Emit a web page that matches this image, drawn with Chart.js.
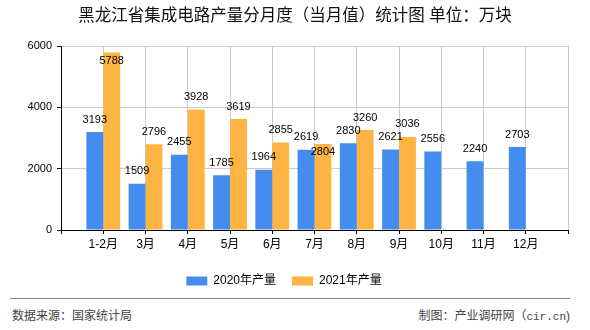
<!DOCTYPE html>
<html>
<head>
<meta charset="utf-8">
<script src="https://cdn.jsdelivr.net/npm/chart.js@4.4.1/dist/chart.umd.min.js"></script>
<style>
    body { margin: 0; background: #fff; font-family: "Liberation Sans", "Noto Sans CJK SC", sans-serif; }
    #wrap { position: relative; width: 590px; height: 330px; overflow: hidden; }
    #title { position: absolute; left: 0; top: 4px; width: 590px; text-align: center; font-size: 16.5px; line-height: 22px; color: #111; }
    #chart { position: absolute; left: 0; top: 0; }
    #rule { position: absolute; left: 10px; top: 298px; width: 560px; height: 0; border-top: 1px solid #888; }
    .foot { position: absolute; top: 308px; font-size: 12px; line-height: 16px; color: #444; }
    #src { left: 12px; }
    #maker { right: 20px; }
    .mono { font-family: "Liberation Mono", monospace; font-size: 11px; }
</style>
</head>
<body>
<div id="wrap">
    <canvas id="chart" width="590" height="300"></canvas>
    <div id="title">黑龙江省集成电路产量分月度（当月值）统计图 单位：万块</div>
    <div id="rule"></div>
    <div class="foot" id="src">数据来源：国家统计局</div>
    <div class="foot" id="maker">制图：产业调研网（<span class="mono">cir.cn</span>)</div>
</div>
<script>
const months = ['1-2月', '3月', '4月', '5月', '6月', '7月', '8月', '9月', '10月', '11月', '12月'];
const output2020 = [3193, 1509, 2455, 1785, 1964, 2619, 2830, 2621, 2556, 2240, 2703];
const output2021 = [5788, 2796, 3928, 3619, 2855, 2804, 3260, 3036, null, null, null];
const seriesNames = ['2020年产量', '2021年产量'];
const yMax = 6000;
const yStep = 2000;

const COLORS = {
    blue: '#448DEE',
    orange: '#FDB443',
    grid: '#cccccc',
    axis: '#000000'
};

Chart.defaults.font.family = '"Liberation Sans", "Noto Sans CJK SC", sans-serif';
Chart.defaults.color = '#000';

// 两侧各留一个空分类, 让 1-2月 到 12月 落在格线上
const labels = ['', ...months, ''];
const pad = arr => [null, ...arr, null];

// 柱顶数值
const valueLabels = {
    id: 'valueLabels',
    afterDatasetsDraw(chart) {
        const { ctx, chartArea } = chart;
        const first = chart.getDatasetMeta(0).data;
        const second = chart.getDatasetMeta(1).data;
        ctx.save();
        ctx.font = '11px "Liberation Sans", sans-serif';
        ctx.fillStyle = '#000';
        ctx.textAlign = 'center';
        ctx.textBaseline = 'middle';
        chart.data.datasets.forEach((ds, di) => {
            const els = di === 0 ? first : second;
            ds.data.forEach((v, i) => {
                if (v === null) return;
                const el = els[i];
                let y = el.y - 12.5;
                if (di === 1) {
                    const other = chart.data.datasets[0].data[i];
                    const oy = other === null ? null : first[i].y - 12.5;
                    if (y - 6 < chartArea.top || (oy !== null && Math.abs(y - oy) < 10)) {
                        y = el.y + 8;
                    }
                }
                ctx.fillText(String(v), el.x, y);
            });
        });
        ctx.restore();
    }
};

new Chart(document.getElementById('chart'), {
    type: 'bar',
    data: {
        labels,
        datasets: [
            { label: seriesNames[0], data: pad(output2020), backgroundColor: COLORS.blue },
            { label: seriesNames[1], data: pad(output2021), backgroundColor: COLORS.orange }
        ]
    },
    options: {
        responsive: false,
        animation: false,
        devicePixelRatio: 1,
        layout: { padding: { top: 46, right: 22, bottom: 3, left: 0 } },
        datasets: { bar: { categoryPercentage: 0.8, barPercentage: 1 } },
        plugins: {
            title: { display: false },
            tooltip: { enabled: false },
            legend: {
                position: 'bottom',
                labels: {
                    boxWidth: 21,
                    boxHeight: 9,
                    padding: 16,
                    color: '#000',
                    font: { size: 12 }
                }
            }
        },
        scales: {
            x: {
                offset: false,
                grid: { offset: false, color: COLORS.grid, tickColor: COLORS.axis, tickLength: 4 },
                border: { color: COLORS.axis },
                ticks: { autoSkip: false, maxRotation: 0, padding: 3, font: { size: 12 }, color: '#000' },
                afterFit(scale) { scale.height = 29; }
            },
            y: {
                min: 0,
                max: yMax,
                grid: { color: COLORS.grid, tickColor: COLORS.axis, tickLength: 4 },
                border: { color: COLORS.axis },
                ticks: {
                    stepSize: yStep,
                    padding: 5,
                    font: { size: 11 },
                    color: '#000',
                    callback: value => String(value)
                },
                afterFit(scale) { scale.width = 61; }
            }
        }
    },
    plugins: [valueLabels]
});
</script>
</body>
</html>
